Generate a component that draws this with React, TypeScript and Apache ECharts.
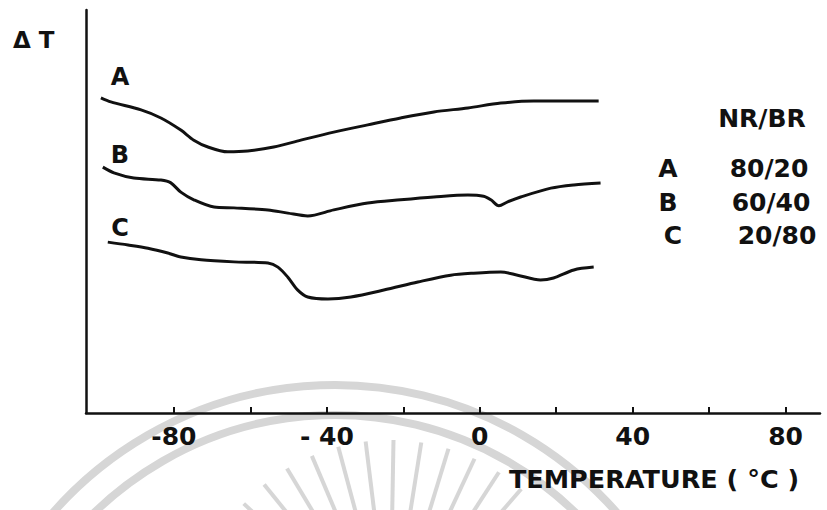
import React, { useEffect, useRef } from "react";
import * as echarts from "echarts";

// DTA thermograms of NR/BR blends: temperature (°C) vs. ΔT (arbitrary units)
const tempA = [-99.1, -96.5, -88.6, -83.4, -78.2, -74.8, -71.1, -65.9, -60.7, -53.9, -46.8, -38.2, -29.3, -20.7, -12.0, -3.1, 5.5, 14.1, 23.0, 31.1];
const dtA = [78.2, 77.2, 75.2, 73.2, 70.2, 67.7, 66.0, 64.8, 65.0, 66.0, 67.7, 69.7, 71.5, 73.2, 74.7, 75.7, 76.9, 77.4, 77.4, 77.4];

const tempB = [-98.6, -95.7, -90.5, -83.4, -80.8, -78.2, -74.8, -69.5, -64.3, -55.4, -50.2, -45.0, -38.2, -29.3, -20.7, -12.0, -3.1, 1.0, 2.9, 5.0, 7.3, 10.7, 18.6, 24.6, 31.6];
const dtB = [61.0, 59.6, 58.3, 57.8, 57.1, 54.8, 52.9, 51.1, 50.9, 50.4, 49.6, 48.9, 50.4, 52.1, 52.9, 53.6, 54.1, 53.8, 52.9, 51.4, 52.4, 53.6, 55.8, 56.6, 57.1];

const tempC = [-97.3, -92.0, -86.8, -81.6, -78.2, -72.9, -64.3, -55.4, -52.8, -50.2, -47.6, -45.0, -39.7, -33.7, -25.1, -16.2, -7.6, -1.6, 5.5, 9.9, 15.9, 19.3, 24.6, 29.8];
const dtC = [42.4, 41.7, 40.9, 39.7, 38.7, 38.0, 37.5, 37.2, 36.2, 33.7, 30.5, 28.8, 28.3, 28.8, 30.5, 32.5, 34.2, 34.7, 35.0, 34.2, 33.0, 33.5, 35.5, 36.2];

const tickValues = [-80, -60, -40, -20, 0, 20, 40, 60, 80];
const labelValues = [-80, -40, 0, 40, 80];

const curveNames = ["A", "B", "C"];
const blendRatios = ["80/20", "60/40", "20/80"];

const INK = "#111111";
const FONT = "DejaVu Sans";
const WATERMARK = "#d6d6d6";

function zip(xs: number[], ys: number[]) {
  return xs.map((x, i) => [x, ys[i]]);
}

// faint seal behind the plot: two arcs and a fan of spokes
function sealGraphics() {
  const items: any[] = [
    { type: "circle", z: -10, silent: true, shape: { cx: 335, cy: 760, r: 375 }, style: { fill: "none", stroke: WATERMARK, lineWidth: 8 } },
    { type: "circle", z: -10, silent: true, shape: { cx: 335, cy: 760, r: 345 }, style: { fill: "none", stroke: WATERMARK, lineWidth: 8 } },
  ];
  const cx = 390;
  const cy = 640;
  for (let a = -137; a <= -45; a += 8) {
    const rad = (a * Math.PI) / 180;
    items.push({
      type: "line",
      z: -10,
      silent: true,
      shape: {
        x1: cx + Math.cos(rad) * 200,
        y1: cy + Math.sin(rad) * 200,
        x2: cx + Math.cos(rad) * 120,
        y2: cy + Math.sin(rad) * 120,
      },
      style: { stroke: WATERMARK, lineWidth: 4 },
    });
  }
  return items;
}

function textItem(text: string, x: number, y: number, size: number, align = "center") {
  return {
    type: "text",
    x,
    y,
    style: {
      text,
      fill: INK,
      font: `bold ${size}px "${FONT}"`,
      align,
      verticalAlign: "middle",
    },
  };
}

export default function App() {
  const ref = useRef<HTMLDivElement>(null);

  useEffect(() => {
    if (!ref.current) return;
    const chart = echarts.init(ref.current, null, { renderer: "svg" });

    const seriesData = [zip(tempA, dtA), zip(tempB, dtB), zip(tempC, dtC)];

    const legendY = [168, 202, 235];
    const curveLabelY = [77, 155, 228];
    const ratioX = [769, 771, 777];

    chart.setOption({
      animation: false,
      backgroundColor: "#ffffff",
      grid: { left: 86, right: 7, top: 10, bottom: 97, containLabel: false },
      xAxis: {
        type: "value",
        min: -103,
        max: 89,
        splitLine: { show: false },
        axisLine: { show: true, onZero: false, lineStyle: { color: INK, width: 2.5 } },
        axisTick: { show: true, inside: true, length: 6, customValues: tickValues, lineStyle: { color: INK, width: 2 } },
        axisLabel: {
          customValues: labelValues,
          margin: 11,
          color: INK,
          fontFamily: FONT,
          fontWeight: "bold",
          fontSize: 25,
          formatter: (v: number) => (v === -40 ? "- 40" : String(v)),
        },
      },
      yAxis: {
        type: "value",
        min: 0,
        max: 100,
        splitLine: { show: false },
        axisLine: { show: true, onZero: false, lineStyle: { color: INK, width: 2.5 } },
        axisTick: { show: false },
        axisLabel: { show: false },
      },
      series: seriesData.map((d, i) => ({
        name: curveNames[i],
        type: "line",
        data: d,
        showSymbol: false,
        smooth: 0.3,
        lineStyle: { color: INK, width: 3 },
      })),
      graphic: [
        ...sealGraphics(),
        textItem("Δ T", 13, 40, 23, "left"),
        ...curveNames.map((n, i) => textItem(n, 120, curveLabelY[i], 24)),
        textItem("NR/BR", 762, 118, 25),
        ...curveNames.map((n, i) => textItem(n, i === 2 ? 673 : 668, legendY[i], 25)),
        ...blendRatios.map((r, i) => textItem(r, ratioX[i], legendY[i], 25)),
        textItem("TEMPERATURE ( °C )", 654, 479, 25.5),
      ],
    });

    return () => chart.dispose();
  }, []);

  return <div ref={ref} style={{ position: "absolute", left: 0, top: 0, width: 827, height: 510 }} />;
}
